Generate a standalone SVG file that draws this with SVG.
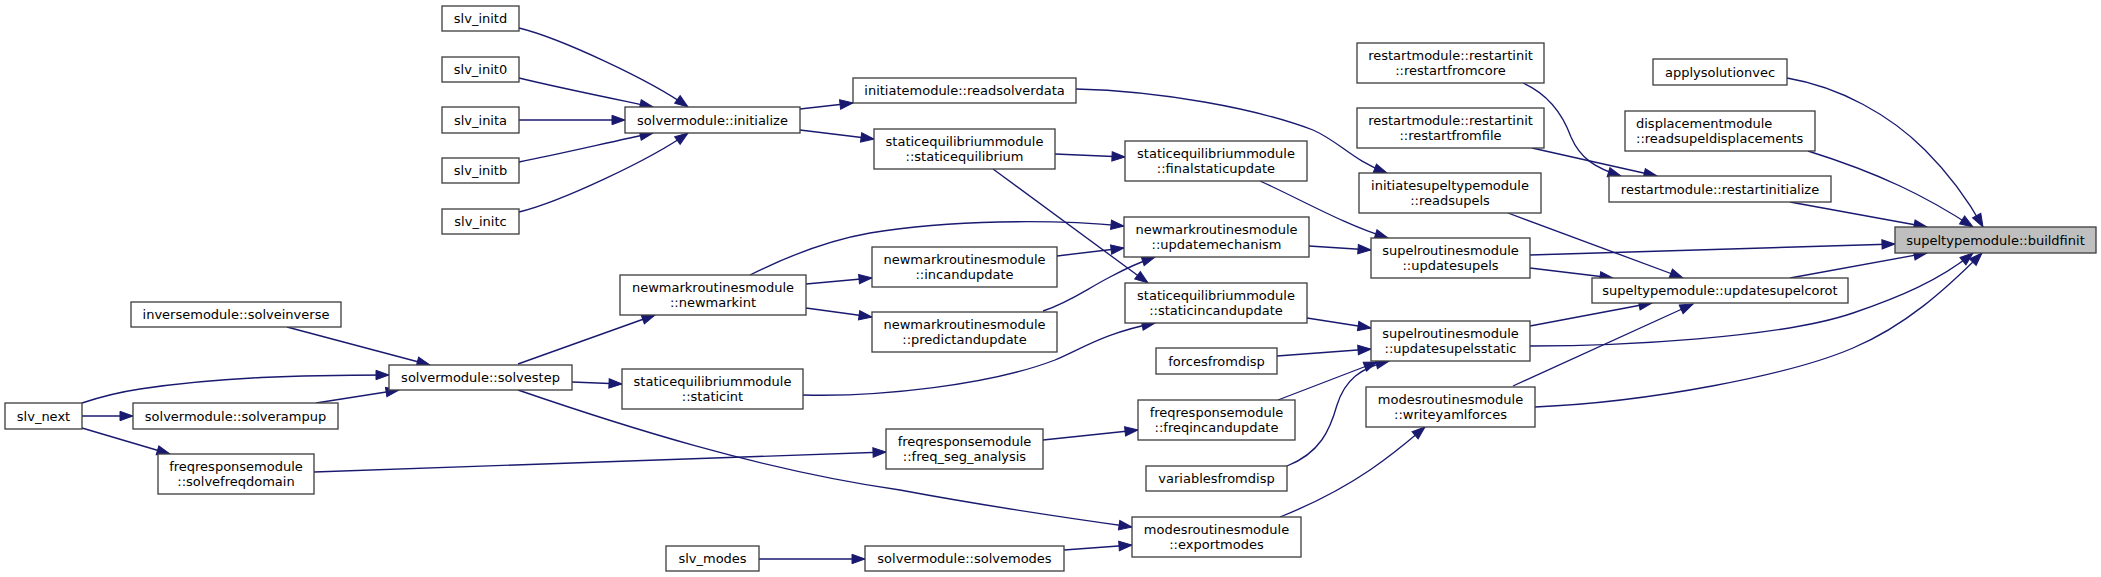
<svg xmlns="http://www.w3.org/2000/svg" width="2101" height="577" viewBox="0 0 2101 577">
<style>
.n rect{fill:#ffffff;stroke:#404040;stroke-width:1.33}
.n text{font-family:"DejaVu Sans",sans-serif;font-size:13px;fill:#000000;text-anchor:middle}
.n text.l{text-anchor:start}
.root rect{fill:#bfbfbf}
.e path{fill:none;stroke:#191970;stroke-width:1.33;marker-end:url(#ah)}
</style>
<defs>
<marker id="ah" markerWidth="14" markerHeight="10" refX="13" refY="4.7" orient="auto" markerUnits="userSpaceOnUse" overflow="visible">
<path d="M0,0 L13,4.7 L0,9.4 Z" fill="#191970" stroke="#191970" stroke-width="1"/>
</marker>
</defs>
<rect width="2101" height="577" fill="#ffffff"/>
<g id="edges" class="e">
<path d="M519,28 C560,38 650,80 688,107"/>
<path d="M519,78 C560,88 610,98 653,107"/>
<path d="M519,120 L625,120"/>
<path d="M519,162 C560,154 610,142 653,133"/>
<path d="M519,212 C560,202 650,160 688,133"/>
<path d="M800,109 L853,103"/>
<path d="M800,130 L874,139"/>
<path d="M1076,89 C1160,91 1255,108 1313,130 C1340,142 1352,160 1387,173"/>
<path d="M1055,154 L1125,157"/>
<path d="M993,169 L1148,283"/>
<path d="M1260,181 C1300,199 1345,225 1388,238"/>
<path d="M750,275 C790,255 830,240 870,233 C950,220 1050,219 1124,226"/>
<path d="M806,284 L872,278"/>
<path d="M806,308 L872,317"/>
<path d="M1057,256 L1124,248"/>
<path d="M1043,311 C1070,302 1085,290 1110,277 C1125,269 1140,262 1155,257"/>
<path d="M1309,246 L1371,250"/>
<path d="M518,364 L655,315"/>
<path d="M572,382 L622,384"/>
<path d="M518,390 C620,425 760,470 900,490 C980,505 1060,517 1132,527"/>
<path d="M803,395 C880,397 990,385 1055,360 C1085,347 1105,333 1155,323"/>
<path d="M1307,318 L1371,328"/>
<path d="M1277,356 L1371,349"/>
<path d="M1278,400 L1377,362"/>
<path d="M1287,466 C1320,453 1330,430 1337,405 C1345,380 1360,368 1389,361"/>
<path d="M1043,440 L1138,430"/>
<path d="M314,472 L886,452"/>
<path d="M82,403 C100,397 120,392 140,389 C220,377 300,375 389,375"/>
<path d="M82,416 L133,416"/>
<path d="M82,428 L170,454"/>
<path d="M287,327 L430,365"/>
<path d="M316,403 L399,390"/>
<path d="M759,559 L865,559"/>
<path d="M1064,550 L1132,545"/>
<path d="M1280,517 C1310,505 1345,487 1370,470 C1395,453 1412,438 1425,427"/>
<path d="M1523,83 C1550,95 1563,115 1571,137 C1580,158 1595,168 1621,176"/>
<path d="M1532,148 L1657,176"/>
<path d="M1508,213 L1683,278"/>
<path d="M1530,268 L1613,278"/>
<path d="M1530,255 L1895,244"/>
<path d="M1530,326 L1652,303"/>
<path d="M1530,346 C1620,346 1780,338 1853,313 C1900,297 1940,280 1973,253"/>
<path d="M1513,386 L1693,304"/>
<path d="M1535,407 C1650,402 1790,375 1853,348 C1905,326 1945,290 1982,253"/>
<path d="M1787,78 C1840,87 1890,115 1925,150 C1950,175 1968,200 1983,227"/>
<path d="M1808,151 C1840,161 1870,172 1900,186 C1930,200 1950,212 1973,227"/>
<path d="M1790,202 L1927,227"/>
<path d="M1790,278 L1927,253"/>
</g>
<g id="slv_initd" class="n"><rect x="442" y="6" width="77" height="25"/><text x="480.5" y="23">slv_initd</text></g>
<g id="slv_init0" class="n"><rect x="442" y="57" width="77" height="25"/><text x="480.5" y="74">slv_init0</text></g>
<g id="slv_inita" class="n"><rect x="442" y="107" width="77" height="26"/><text x="480.5" y="124.5">slv_inita</text></g>
<g id="slv_initb" class="n"><rect x="442" y="158" width="77" height="25"/><text x="480.5" y="175">slv_initb</text></g>
<g id="slv_initc" class="n"><rect x="442" y="209" width="77" height="25"/><text x="480.5" y="226">slv_initc</text></g>
<g id="initialize" class="n"><rect x="625" y="107" width="175" height="26"/><text x="712.5" y="124.5">solvermodule::initialize</text></g>
<g id="readsolverdata" class="n"><rect x="853" y="78" width="223" height="25"/><text x="964.5" y="95">initiatemodule::readsolverdata</text></g>
<g id="staticequilibrium" class="n"><rect x="874" y="129" width="181" height="40"/><text x="964.5" y="145.5">staticequilibriummodule<tspan x="964.5" dy="15">::staticequilibrium</tspan></text></g>
<g id="newmarkint" class="n"><rect x="620" y="275" width="186" height="40"/><text x="713" y="291.5">newmarkroutinesmodule<tspan x="713" dy="15">::newmarkint</tspan></text></g>
<g id="incandupdate" class="n"><rect x="872" y="247" width="185" height="40"/><text x="964.5" y="263.5">newmarkroutinesmodule<tspan x="964.5" dy="15">::incandupdate</tspan></text></g>
<g id="predictandupdate" class="n"><rect x="872" y="312" width="185" height="40"/><text x="964.5" y="328.5">newmarkroutinesmodule<tspan x="964.5" dy="15">::predictandupdate</tspan></text></g>
<g id="solvestep" class="n"><rect x="389" y="365" width="183" height="25"/><text x="480.5" y="382">solvermodule::solvestep</text></g>
<g id="staticint" class="n"><rect x="622" y="369" width="181" height="40"/><text x="712.5" y="385.5">staticequilibriummodule<tspan x="712.5" dy="15">::staticint</tspan></text></g>
<g id="freq_seg_analysis" class="n"><rect x="886" y="429" width="157" height="40"/><text x="964.5" y="445.5">freqresponsemodule<tspan x="964.5" dy="15">::freq_seg_analysis</tspan></text></g>
<g id="slv_modes" class="n"><rect x="666" y="546" width="93" height="25"/><text x="712.5" y="563">slv_modes</text></g>
<g id="solvemodes" class="n"><rect x="865" y="546" width="199" height="25"/><text x="964.5" y="563">solvermodule::solvemodes</text></g>
<g id="solveinverse" class="n"><rect x="131" y="302" width="210" height="25"/><text x="236" y="319">inversemodule::solveinverse</text></g>
<g id="slv_next" class="n"><rect x="5" y="403" width="77" height="26"/><text x="43.5" y="420.5">slv_next</text></g>
<g id="solverampup" class="n"><rect x="133" y="403" width="205" height="26"/><text x="235.5" y="420.5">solvermodule::solverampup</text></g>
<g id="solvefreqdomain" class="n"><rect x="158" y="454" width="156" height="40"/><text x="236" y="470.5">freqresponsemodule<tspan x="236" dy="15">::solvefreqdomain</tspan></text></g>
<g id="finalstaticupdate" class="n"><rect x="1125" y="141" width="182" height="40"/><text x="1216" y="157.5">staticequilibriummodule<tspan x="1216" dy="15">::finalstaticupdate</tspan></text></g>
<g id="updatemechanism" class="n"><rect x="1124" y="217" width="185" height="40"/><text x="1216.5" y="233.5">newmarkroutinesmodule<tspan x="1216.5" dy="15">::updatemechanism</tspan></text></g>
<g id="staticincandupdate" class="n"><rect x="1125" y="283" width="182" height="40"/><text x="1216" y="299.5">staticequilibriummodule<tspan x="1216" dy="15">::staticincandupdate</tspan></text></g>
<g id="restartfromcore" class="n"><rect x="1357" y="43" width="187" height="40"/><text x="1450.5" y="59.5">restartmodule::restartinit<tspan x="1450.5" dy="15">::restartfromcore</tspan></text></g>
<g id="restartfromfile" class="n"><rect x="1357" y="108" width="187" height="40"/><text x="1450.5" y="124.5">restartmodule::restartinit<tspan x="1450.5" dy="15">::restartfromfile</tspan></text></g>
<g id="readsupels" class="n"><rect x="1359" y="173" width="182" height="40"/><text x="1450" y="189.5">initiatesupeltypemodule<tspan x="1450" dy="15">::readsupels</tspan></text></g>
<g id="updatesupels" class="n"><rect x="1371" y="238" width="159" height="40"/><text x="1450.5" y="254.5">supelroutinesmodule<tspan x="1450.5" dy="15">::updatesupels</tspan></text></g>
<g id="updatesupelsstatic" class="n"><rect x="1371" y="321" width="159" height="40"/><text x="1450.5" y="337.5">supelroutinesmodule<tspan x="1450.5" dy="15">::updatesupelsstatic</tspan></text></g>
<g id="forcesfromdisp" class="n"><rect x="1156" y="348" width="121" height="26"/><text x="1216.5" y="365.5">forcesfromdisp</text></g>
<g id="freqincandupdate" class="n"><rect x="1138" y="400" width="157" height="40"/><text x="1216.5" y="416.5">freqresponsemodule<tspan x="1216.5" dy="15">::freqincandupdate</tspan></text></g>
<g id="variablesfromdisp" class="n"><rect x="1146" y="466" width="141" height="25"/><text x="1216.5" y="483">variablesfromdisp</text></g>
<g id="writeyamlforces" class="n"><rect x="1366" y="387" width="169" height="40"/><text x="1450.5" y="403.5">modesroutinesmodule<tspan x="1450.5" dy="15">::writeyamlforces</tspan></text></g>
<g id="exportmodes" class="n"><rect x="1132" y="517" width="169" height="40"/><text x="1216.5" y="533.5">modesroutinesmodule<tspan x="1216.5" dy="15">::exportmodes</tspan></text></g>
<g id="applysolutionvec" class="n"><rect x="1653" y="59" width="134" height="26"/><text x="1720" y="76.5">applysolutionvec</text></g>
<g id="readsupeldisplacements" class="n"><rect x="1625" y="111" width="190" height="40"/><text class="l" x="1636" y="127.5">displacementmodule<tspan x="1636" dy="15">::readsupeldisplacements</tspan></text></g>
<g id="restartinitialize" class="n"><rect x="1609" y="176" width="222" height="26"/><text x="1720" y="193.5">restartmodule::restartinitialize</text></g>
<g id="buildfinit" class="n root"><rect x="1895" y="227" width="201" height="26"/><text x="1995.5" y="244.5">supeltypemodule::buildfinit</text></g>
<g id="updatesupelcorot" class="n"><rect x="1592" y="278" width="256" height="25"/><text x="1720" y="295">supeltypemodule::updatesupelcorot</text></g>
</svg>
